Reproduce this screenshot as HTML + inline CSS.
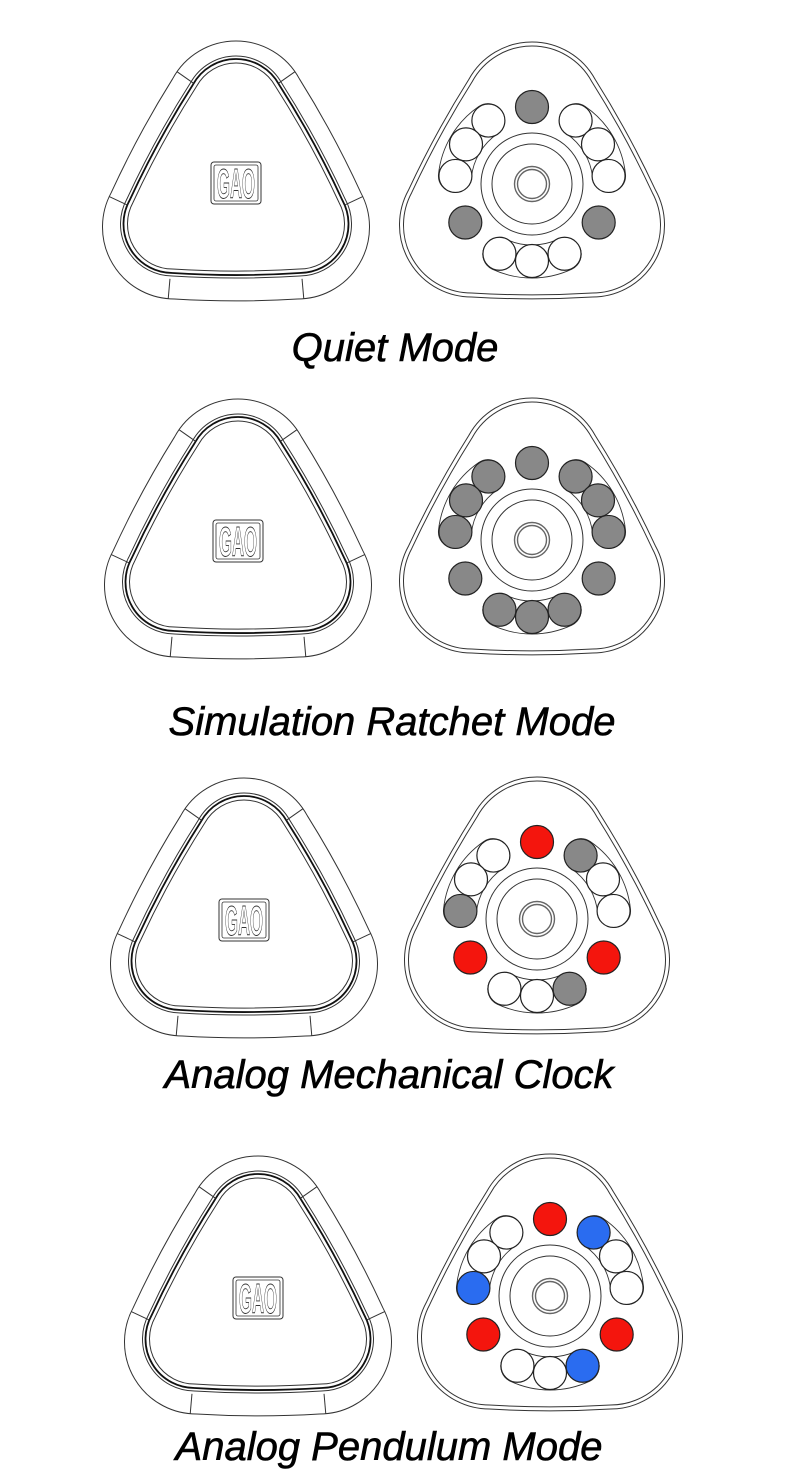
<!DOCTYPE html>
<html><head><meta charset="utf-8"><style>
html,body{margin:0;padding:0;background:#fff;width:800px;height:1470px;overflow:hidden}
svg{display:block}
</style></head><body>
<svg id="s" width="800" height="1470" viewBox="0 0 800 1470" xmlns="http://www.w3.org/2000/svg">
<g font-family="Liberation Sans, sans-serif" font-style="italic" font-size="40" text-anchor="middle" fill="#000" stroke="#000" stroke-width="0.6">
<text x="395" y="361">Quiet Mode</text>
<text x="392" y="735">Simulation Ratchet Mode</text>
<text x="389" y="1088">Analog Mechanical Clock</text>
<text x="389" y="1460">Analog Pendulum Mode</text>
</g>
<g id="g"></g>
</svg>
<script>
var NS="http://www.w3.org/2000/svg",G=document.getElementById('g');
function el(t,a){var e=document.createElementNS(NS,t);for(var k in a)e.setAttribute(k,a[k]);G.appendChild(e);return e;}
function tri(cx,cy,top,bot,hw,r,rb){
  var V=[[cx,cy+top],[cx+hw,cy+bot],[cx-hw,cy+bot]],N=[];
  for(var i=0;i<3;i++){var P=V[i],Q=V[(i+1)%3],dx=Q[0]-P[0],dy=Q[1]-P[1],l=Math.hypot(dx,dy);N.push([dy/l,-dx/l]);}
  var pts=[];
  for(var i=0;i<3;i++){
    var P=V[i],nIn=N[(i+2)%3],nOut=N[i];
    pts.push([[P[0]+nIn[0]*r,P[1]+nIn[1]*r],[P[0]+nOut[0]*r,P[1]+nOut[1]*r]]);
  }
  var f=function(p){return p[0].toFixed(2)+" "+p[1].toFixed(2);};
  var d="M"+f(pts[0][0]);
  for(var i=0;i<3;i++){
    d+=" A"+r+" "+r+" 0 0 1 "+f(pts[i][1]);
    d+=" A"+rb+" "+rb+" 0 0 1 "+f(pts[(i+1)%3][0]);
  }
  return d+"Z";
}
var ST="#333";
var T=-70,B=44,HW=61.5,R=72,RB=1000;
function left(cx,cy){
  el('path',{d:tri(cx,cy,T,B,HW,R,RB),fill:'none',stroke:ST,'stroke-width':1});
  var s=-5;
  el('path',{d:tri(cx,cy+s,T,B+2,HW+2,R-20,RB-20),fill:'none',stroke:ST,'stroke-width':1});
  el('path',{d:tri(cx,cy+s,T,B+2,HW+2,R-23,RB-23),fill:'none',stroke:'#111','stroke-width':1.8});
  el('path',{d:tri(cx,cy+s,T,B+2,HW+2,R-27,RB-27),fill:'none',stroke:ST,'stroke-width':1});
  var D=[[0,T,-145],[0,T,-35],[-HW,B,-155],[-HW,B,95],[HW,B,-25],[HW,B,85]];
  D.forEach(function(q){var a=q[2]*Math.PI/180,ux=Math.cos(a),uy=Math.sin(a),x=cx+q[0],y=cy+q[1];
    el('line',{x1:x+ux*(R-20),y1:y+uy*(R-20),x2:x+ux*R,y2:y+uy*R,stroke:ST,'stroke-width':1});});
  el('rect',{x:cx-25,y:cy-21,width:50,height:42,rx:3,fill:'#fff',stroke:ST,'stroke-width':1});
  el('rect',{x:cx-22,y:cy-18,width:44,height:36,rx:2,fill:'none',stroke:ST,'stroke-width':0.8});
  var t=el('text',{x:cx-19,y:cy+15,'font-family':'Liberation Sans, sans-serif','font-weight':'bold','font-size':42,textLength:38,lengthAdjust:'spacingAndGlyphs',fill:'#fff',stroke:ST,'stroke-width':0.9});
  t.textContent="GAO";
}
var gray="#888",red="#f4150d",blue="#2a6cf0",W="#fff";
function right(cx,cy,cols){
  el('path',{d:tri(cx,cy,T,B-3,HW-1,R,RB),fill:'none',stroke:ST,'stroke-width':1});
  el('path',{d:tri(cx,cy,T,B-3,HW-1,R-4,RB-4),fill:'none',stroke:ST,'stroke-width':1});
  function pocket(a1,a2){
    var R1=94,R0=61,rad=Math.PI/180,p=function(r,a){return (cx+r*Math.cos(a*rad)).toFixed(2)+" "+(cy+r*Math.sin(a*rad)).toFixed(2);};
    var d="M"+p(R1,a1)+" A"+R1+" "+R1+" 0 0 1 "+p(R1,a2)+" A16.5 16.5 0 0 1 "+p(R0,a2)+" A"+R0+" "+R0+" 0 0 0 "+p(R0,a1)+" A16.5 16.5 0 0 1 "+p(R1,a1)+"Z";
    el('path',{d:d,fill:'none',stroke:ST,'stroke-width':0.9});
  }
  pocket(186,235.5);pocket(304.5,354);pocket(65,115);
  el('circle',{cx:cx,cy:cy,r:51,fill:'none',stroke:ST,'stroke-width':1});
  el('circle',{cx:cx,cy:cy,r:40,fill:'none',stroke:ST,'stroke-width':1});
  el('circle',{cx:cx,cy:cy,r:17.5,fill:'none',stroke:'#666','stroke-width':1.4});
  el('circle',{cx:cx,cy:cy,r:14.5,fill:'none',stroke:'#666','stroke-width':1.4});
  var A=[270,235.5,211,186,150,304.5,329,354,30,115,90,65];
  A.forEach(function(a,i){var r=a*Math.PI/180;
    el('circle',{cx:cx+77*Math.cos(r),cy:cy+77*Math.sin(r),r:16.5,fill:cols[i],stroke:'#222','stroke-width':1.2});});
}
var rows=[
 {l:[236,183],r:[532,184],c:[gray,W,W,W,gray,W,W,W,gray,W,W,W]},
 {l:[238,541],r:[532,540],c:[gray,gray,gray,gray,gray,gray,gray,gray,gray,gray,gray,gray]},
 {l:[244,920],r:[537,919],c:[red,W,W,gray,red,gray,W,W,red,W,W,gray]},
 {l:[258,1298],r:[550,1296],c:[red,W,W,blue,red,blue,W,W,red,W,W,blue]}
];
rows.forEach(function(o){left(o.l[0],o.l[1]);right(o.r[0],o.r[1],o.c);});
</script>
</body></html>
